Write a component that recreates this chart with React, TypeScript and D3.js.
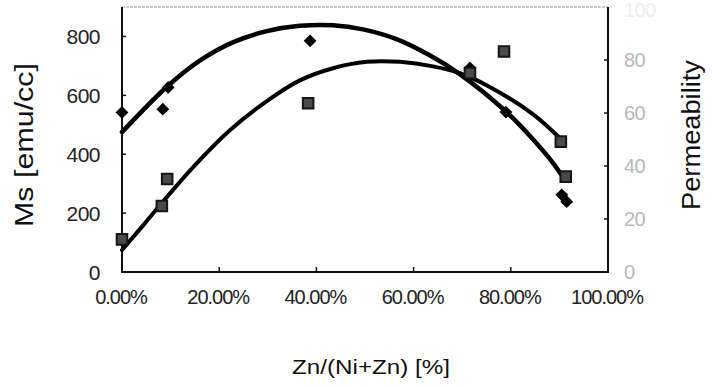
import React from "react";
import * as d3 from "d3";

// ---- data ----
const msX = [0, 0.084, 0.095, 0.387, 0.716, 0.79, 0.905, 0.915];
const msVal = [542, 553, 627, 785, 693, 543, 262, 239];

const permX = [0, 0.082, 0.093, 0.383, 0.716, 0.786, 0.903, 0.913];
const permVal = [12.3, 24.9, 35.1, 63.7, 75.1, 83.2, 49.2, 36.0];

// trend lines (read as points along the drawn curves)
const msTrendX = [0, 0.093, 0.16, 0.228, 0.298, 0.366, 0.434, 0.496, 0.566, 0.634, 0.695, 0.79, 0.846, 0.887, 0.909];
const msTrendY = [475, 630, 718, 780, 818, 836, 838, 824, 790, 735, 672, 545, 450, 370, 318];

const permTrendX = [0, 0.043, 0.084, 0.146, 0.222, 0.298, 0.366, 0.434, 0.504, 0.572, 0.64, 0.695, 0.751, 0.846, 0.905];
const permTrendY = [8.3, 17.5, 26.5, 39.5, 53.5, 64.5, 72.3, 76.9, 79.3, 79.3, 77.6, 75, 70.4, 59.5, 49.8];

const xTitle = "Zn/(Ni+Zn) [%]";
const yLeftTitle = "Ms [emu/cc]";
const yRightTitle = "Permeability";

const W = 712;
const H = 389;
const L = 122, R = 608, T = 7, B = 272;

export default function App() {
  const x = d3.scaleLinear().domain([0, 1]).range([L, R]);
  const yL = d3.scaleLinear().domain([0, 900]).range([B, T]);
  const yR = d3.scaleLinear().domain([0, 100]).range([B, T]);

  const fmtX = d3.format(".2%");
  const xTicks = x.ticks(5);
  const yLTicks = yL.ticks(5).filter((t) => t <= 800);
  const yRTicks = yR.ticks(5);

  const msLine = d3
    .line<number>()
    .x((_, i) => x(msTrendX[i]))
    .y((d) => yL(d))
    .curve(d3.curveCatmullRom.alpha(0.5));
  const permLine = d3
    .line<number>()
    .x((_, i) => x(permTrendX[i]))
    .y((d) => yR(d))
    .curve(d3.curveCatmullRom.alpha(0.5));

  const diamond = d3.symbol().type(d3.symbolDiamond2).size(105)()!;
  const square = d3.symbol().type(d3.symbolSquare).size(112)()!;

  const font = "'Liberation Sans', Arial, sans-serif";

  return (
    <svg
      width={W}
      height={H}
      style={{ position: "absolute", left: 0, top: 0, background: "#fff" }}
      fontFamily={font}
    >
      <rect x={0} y={0} width={W} height={H} fill="#fff" />
      {/* frame */}
      <line x1={L} x2={R} y1={T} y2={T} stroke="#9a9a9a" strokeWidth={1.2} strokeDasharray="3 1" />
      <line x1={L} x2={L} y1={T} y2={B + 1} stroke="#111" strokeWidth={2} />
      <line x1={L} x2={R + 1} y1={B} y2={B} stroke="#111" strokeWidth={2} />
      <line x1={R} x2={R} y1={T} y2={B + 1} stroke="#111" strokeWidth={2} />

      {/* left ticks */}
      {yLTicks.map((t) => (
        <g key={"l" + t}>
          {t > 0 && <line x1={L} x2={L + 4} y1={yL(t)} y2={yL(t)} stroke="#111" strokeWidth={1.5} />}
          <text x={100} y={yL(t)} dy="0.36em" textAnchor="end" fontSize={21} fill="#222" letterSpacing={-0.5}>
            {t}
          </text>
        </g>
      ))}
      {/* right ticks */}
      {yRTicks.map((t) => (
        <g key={"r" + t}>
          {t > 0 && t < 100 && <line x1={R - 4} x2={R} y1={yR(t)} y2={yR(t)} stroke="#111" strokeWidth={1.5} />}
          <text
            x={624}
            y={t === 100 ? yR(t) + 3 : yR(t)}
            dy="0.36em"
            textAnchor="start"
            fontSize={20}
            fill={t === 100 ? "#eeeeee" : "#b8b8b8"}
            letterSpacing={-0.5}
          >
            {t}
          </text>
        </g>
      ))}
      {/* x ticks */}
      {xTicks.map((t) => (
        <g key={"x" + t}>
          {t > 0 && t < 1 && <line x1={x(t)} x2={x(t)} y1={B} y2={B - 5} stroke="#111" strokeWidth={1.5} />}
          <text x={x(t) - 1} y={304} textAnchor="middle" fontSize={20} fill="#222" letterSpacing={-1}>
            {fmtX(t)}
          </text>
        </g>
      ))}

      {/* trend lines */}
      <path d={permLine(permTrendY)!} fill="none" stroke="#000" strokeWidth={4} strokeLinecap="round" />
      <path d={msLine(msTrendY)!} fill="none" stroke="#000" strokeWidth={4.5} strokeLinecap="round" />

      {/* markers */}
      {msVal.map((v, i) => (
        <path key={"d" + i} d={diamond} transform={`translate(${x(msX[i])},${yL(v)})`} fill="#000" />
      ))}
      {permVal.map((v, i) => (
        <path
          key={"s" + i}
          d={square}
          transform={`translate(${x(permX[i])},${yR(v)})`}
          fill="#4a4a4a"
          stroke="#151515"
          strokeWidth={2}
        />
      ))}

      {/* titles */}
      <text
        x={0}
        y={0}
        transform={`translate(33,145) rotate(-90)`}
        textAnchor="middle"
        fontSize={25}
        fill="#111"
        textLength={164}
        lengthAdjust="spacingAndGlyphs"
      >
        {yLeftTitle}
      </text>
      <text
        x={0}
        y={0}
        transform={`translate(700,135) rotate(-90)`}
        textAnchor="middle"
        fontSize={26}
        fill="#111"
        textLength={150}
        lengthAdjust="spacingAndGlyphs"
      >
        {yRightTitle}
      </text>
      <text
        x={371}
        y={374}
        textAnchor="middle"
        fontSize={21}
        fill="#111"
        textLength={158}
        lengthAdjust="spacingAndGlyphs"
      >
        {xTitle}
      </text>
    </svg>
  );
}
